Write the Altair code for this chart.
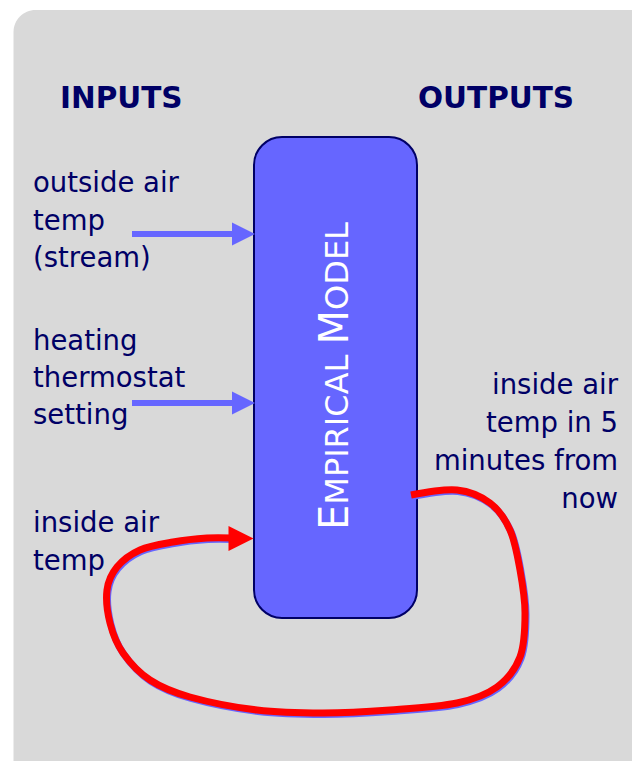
import altair as alt
import pandas as pd

# ---------------- data ----------------
headings = ["INPUTS", "OUTPUTS"]
heading_x = [60, 418]
heading_y = [108, 108]

left_lines = ["outside air", "temp", "(stream)", "heating", "thermostat", "setting", "inside air", "temp"]
left_y = [192, 230, 267, 350, 387, 424, 532, 570]
left_x = [33] * len(left_lines)

right_lines = ["inside air", "temp in 5", "minutes from", "now"]
right_y = [394, 432, 470, 508]
right_x = [618] * len(right_lines)

# model title in small caps (segment, font size)
title_parts = ["E", "MPIRICAL ", "M", "ODEL"]
title_sizes = [40, 32, 40, 32]
title_start_y = 530
title_base_x = 348
# approximate DejaVu Sans advance widths (em)
adv = {"E": .632, "M": .863, "P": .603, "I": .295, "R": .695, "C": .698, "A": .684,
       "L": .557, "O": .787, "D": .770, " ": .318}

# input arrows
arrow_y = [234, 403]
arrow_x0 = [132, 132]
arrow_x1 = [236, 236]
arrow_head_x = [243.5, 243.5]

# feedback loop (red) path points
loop_x = [411, 457, 490, 510, 520, 525, 520, 497, 457, 390, 323, 257, 190, 150, 123, 110, 107, 117, 140, 173, 207, 232]
loop_y = [495, 490, 503, 530, 570, 613, 657, 687, 703, 710, 713, 710, 697, 680, 653, 623, 590, 567, 550, 542, 538, 538]
red_head_x = [241]
red_head_y = [538.5]

# ---------------- scales ----------------
XS = alt.Scale(domain=[8, 632], nice=False, zero=False)
YS = alt.Scale(domain=[8, 761], nice=False, zero=False, reverse=True)

def X(f):
    return alt.X(f, type="quantitative", scale=XS, axis=None)

def Y(f):
    return alt.Y(f, type="quantitative", scale=YS, axis=None)

NAVY = "#000066"
BLUE = "#6666ff"
FONT = "DejaVu Sans"

# panel
panel_df = pd.DataFrame({"x": [13.5], "x2": [680], "y": [10], "y2": [800]})
panel = alt.Chart(panel_df).mark_rect(color="#d9d9d9", cornerRadius=22, clip=True).encode(
    x=X("x"), x2="x2", y=Y("y"), y2="y2")

# model box
box_df = pd.DataFrame({"x": [254], "x2": [417], "y": [137], "y2": [618]})
box = alt.Chart(box_df).mark_rect(fill=BLUE, stroke=NAVY, strokeWidth=2, cornerRadius=28).encode(
    x=X("x"), x2="x2", y=Y("y"), y2="y2")

# title segments
ty = []
cur = title_start_y
for part, s in zip(title_parts, title_sizes):
    ty.append(cur)
    cur -= sum(adv[c] for c in part) * s
title_df = pd.DataFrame({"t": title_parts, "s": title_sizes, "y": ty, "x": [title_base_x] * 4})
title = alt.Chart(title_df).mark_text(angle=270, align="left", baseline="alphabetic",
                                      color="white", font=FONT).encode(
    x=X("x"), y=Y("y"), text="t:N",
    size=alt.Size("s:Q", scale=None, legend=None))

# headings
head_df = pd.DataFrame({"t": headings, "x": heading_x, "y": heading_y})
head = alt.Chart(head_df).mark_text(align="left", baseline="alphabetic", color=NAVY,
                                    font=FONT, fontWeight="bold", fontSize=29.5).encode(
    x=X("x"), y=Y("y"), text="t:N")

left_df = pd.DataFrame({"t": left_lines, "x": left_x, "y": left_y})
left = alt.Chart(left_df).mark_text(align="left", baseline="alphabetic", color=NAVY,
                                    font=FONT, fontSize=27.5).encode(
    x=X("x"), y=Y("y"), text="t:N")

right_df = pd.DataFrame({"t": right_lines, "x": right_x, "y": right_y})
right = alt.Chart(right_df).mark_text(align="right", baseline="alphabetic", color=NAVY,
                                      font=FONT, fontSize=27.5).encode(
    x=X("x"), y=Y("y"), text="t:N")

# blue arrows
arr_df = pd.DataFrame({"x": arrow_x0, "x2": arrow_x1, "y": arrow_y, "hx": arrow_head_x})
arr_line = alt.Chart(arr_df).mark_rule(color=BLUE, strokeWidth=6).encode(
    x=X("x"), x2="x2", y=Y("y"))
TRI = "M-1,-1L1,0L-1,1Z"
arr_head = alt.Chart(arr_df).mark_point(shape=TRI, filled=True, color=BLUE, opacity=1,
                                        size=529, strokeWidth=0).encode(
    x=X("hx"), y=Y("y"))

# red loop
loop_df = pd.DataFrame({"i": list(range(len(loop_x))), "x": loop_x, "y": loop_y})
shadow = alt.Chart(loop_df).transform_calculate(
    sx="datum.x + 1", sy="datum.y + 1.5").mark_line(
    color=BLUE, strokeWidth=7, interpolate="cardinal", strokeCap="butt").encode(
    x=X("sx"), y=Y("sy"), order="i:Q")
loop = alt.Chart(loop_df).mark_line(color="#ff0000", strokeWidth=7, interpolate="cardinal",
                                    strokeCap="butt").encode(
    x=X("x"), y=Y("y"), order="i:Q")
red_df = pd.DataFrame({"x": red_head_x, "y": red_head_y})
red_head = alt.Chart(red_df).mark_point(shape=TRI, filled=True, color="#ff0000", opacity=1,
                                        size=625, strokeWidth=0).encode(
    x=X("x"), y=Y("y"))

chart = alt.layer(panel, box, title, head, left, right, arr_line, arr_head, shadow, loop, red_head).properties(
    width=624, height=753, padding=0, background="white",
    autosize=alt.AutoSizeParams(type="none")
).configure_view(stroke=None)

chart.save("out.html", embed_options={"renderer": "svg", "actions": False})
